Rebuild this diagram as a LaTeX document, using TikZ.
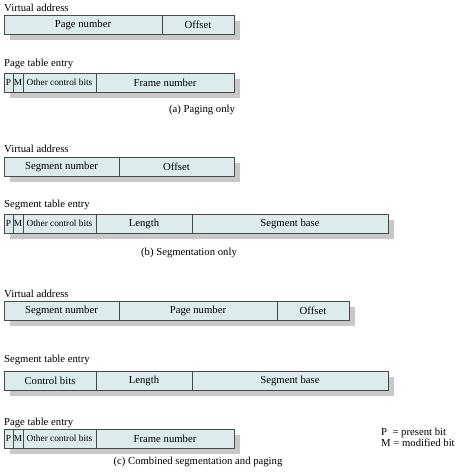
\documentclass[tikz,border=0pt]{standalone}
\usepackage{fontspec}
\setmainfont{Liberation Serif}
\definecolor{boxfill}{HTML}{DCEBEB}
\definecolor{boxline}{HTML}{4A4A4A}
\definecolor{shadowgray}{HTML}{C8C8C8}
\tikzset{
  fld/.style={draw=boxline, fill=boxfill, line width=0.7pt, minimum height=19pt, inner sep=0pt, outer sep=0pt, anchor=north west, font=\fontsize{10.7}{12}\selectfont},
  smallfld/.style={fld, font=\fontsize{9.3}{10}\selectfont},
  shadowbox/.style={fill=shadowgray},
  lbl/.style={anchor=west, inner sep=0pt, font=\fontsize{10.7}{12}\selectfont},
  captxt/.style={anchor=center, inner sep=0pt, font=\fontsize{10.7}{12}\selectfont},
}
\begin{document}
\begin{tikzpicture}[x=1pt,y=-1pt]
\useasboundingbox (0,0) rectangle (462,473);
% ---------- (a) Paging only
\node[lbl] (la1) at (4,8) {Virtual address};
\fill[shadowbox] (10,21) rectangle (240,40);
\node[fld, minimum width=158pt] (a1pn) at (4,15) {Page number};
\node[fld, minimum width=72pt] (a1off) at (162,15) {Offset};
\node[lbl] (la2) at (4,64) {Page table entry};
\fill[shadowbox] (10,79) rectangle (240,98);
\node[smallfld, minimum width=9pt] (a2p) at (4,73) {P};
\node[smallfld, minimum width=10pt] (a2m) at (13,73) {M};
\node[smallfld, minimum width=73pt] (a2o) at (23,73) {Other control bits};
\node[fld, minimum width=138pt] (a2f) at (96,73) {Frame number};
\node[captxt] (capa) at (202,110) {(a) Paging only};
% ---------- (b) Segmentation only
\node[lbl] (lb1) at (4,149) {Virtual address};
\fill[shadowbox] (10,163) rectangle (240,182);
\node[fld, minimum width=115pt] (b1sn) at (4,157) {Segment number};
\node[fld, minimum width=115pt] (b1off) at (119,157) {Offset};
\node[lbl] (lb2) at (4,205) {Segment table entry};
\fill[shadowbox] (10,220) rectangle (394,239);
\node[smallfld, minimum width=9pt] (b2p) at (4,214) {P};
\node[smallfld, minimum width=10pt] (b2m) at (13,214) {M};
\node[smallfld, minimum width=73pt] (b2o) at (23,214) {Other control bits};
\node[fld, minimum width=96pt] (b2l) at (96,214) {Length};
\node[fld, minimum width=196pt] (b2b) at (192,214) {Segment base};
\node[captxt] (capb) at (189,253) {(b) Segmentation only};
% ---------- (c) Combined
\node[lbl] (lc1) at (4,294) {Virtual address};
\fill[shadowbox] (10,307) rectangle (355,326);
\node[fld, minimum width=115pt] (c1sn) at (4,301) {Segment number};
\node[fld, minimum width=158pt] (c1pn) at (119,301) {Page number};
\node[fld, minimum width=72pt] (c1off) at (277,301) {Offset};
\node[lbl] (lc2) at (4,360) {Segment table entry};
\fill[shadowbox] (10,377) rectangle (394,396);
\node[fld, minimum width=92pt] (c2c) at (4,371) {Control bits};
\node[fld, minimum width=96pt] (c2l) at (96,371) {Length};
\node[fld, minimum width=196pt] (c2b) at (192,371) {Segment base};
\node[lbl] (lc3) at (4,423) {Page table entry};
\fill[shadowbox] (10,435) rectangle (240,454);
\node[smallfld, minimum width=9pt] (c3p) at (4,429) {P};
\node[smallfld, minimum width=10pt] (c3m) at (13,429) {M};
\node[smallfld, minimum width=73pt] (c3o) at (23,429) {Other control bits};
\node[fld, minimum width=138pt] (c3f) at (96,429) {Frame number};
\node[lbl] (legp) at (381,433) {P\,\,\,= present bit};
\node[lbl] (legm) at (381,443) {M = modified bit};
\node[captxt] (capc) at (198,462) {(c) Combined segmentation and paging};
\end{tikzpicture}
\end{document}
